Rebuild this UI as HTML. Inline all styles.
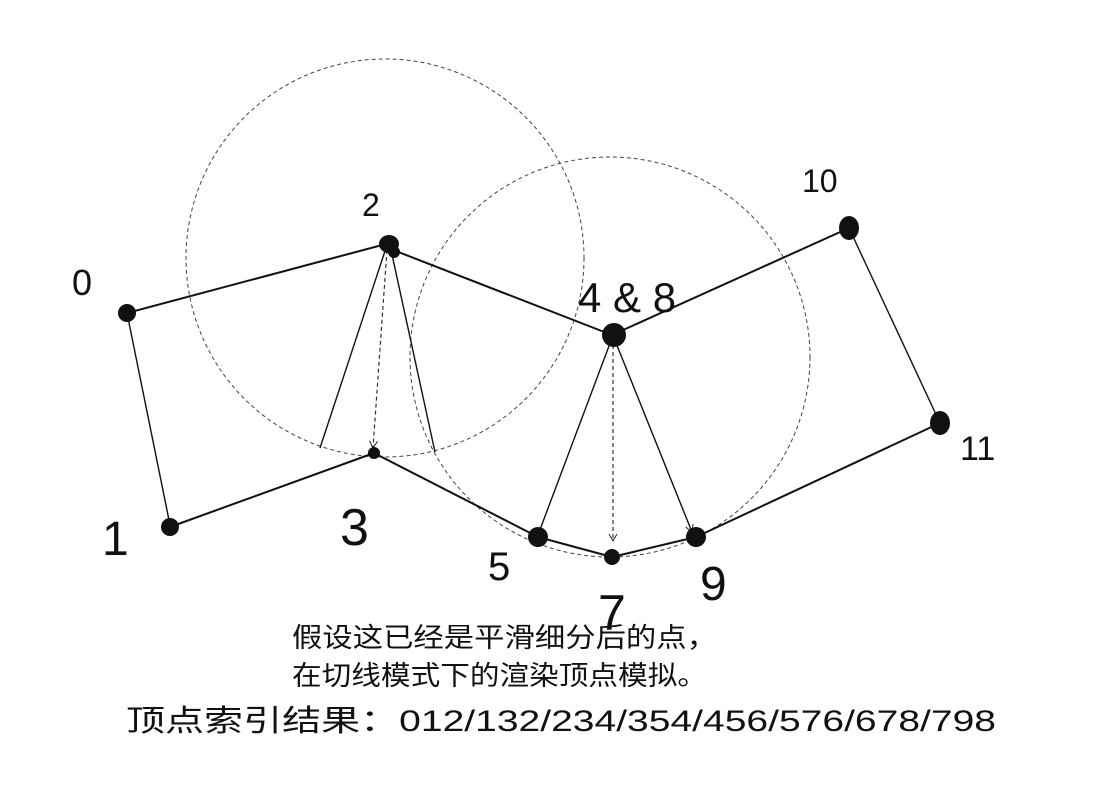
<!DOCTYPE html>
<html><head><meta charset="utf-8">
<style>
html,body{margin:0;padding:0;background:#fff;}
svg{display:block;}
text{font-family:"Liberation Sans","Noto Sans CJK SC",sans-serif;fill:#111;}
</style></head>
<body>
<svg width="1116" height="792" viewBox="0 0 1116 792" xmlns="http://www.w3.org/2000/svg">
<defs>
<marker id="ah" markerWidth="10" markerHeight="10" refX="8" refY="5" orient="auto" markerUnits="userSpaceOnUse">
<path d="M1,1 L8,5 L1,9" fill="none" stroke="#222" stroke-width="1"/>
</marker>
</defs>
<circle cx="385" cy="258" r="199" fill="none" stroke="#444" stroke-width="1" stroke-dasharray="4,3"/>
<circle cx="610" cy="357" r="200" fill="none" stroke="#444" stroke-width="1" stroke-dasharray="4,3"/>
<g stroke="#111" stroke-width="2" fill="none" stroke-linecap="round">
<line x1="127" y1="313" x2="386" y2="244"/>
<line x1="388" y1="248" x2="612" y2="335"/>
<line x1="612" y1="335" x2="849" y2="228"/>
<line x1="374" y1="453" x2="170" y2="527"/>
<line x1="374" y1="453" x2="538" y2="537"/>
<line x1="538" y1="537" x2="612" y2="557"/>
<line x1="612" y1="557" x2="696" y2="537"/>
<line x1="696" y1="537" x2="940" y2="423"/>
</g>
<g stroke="#111" stroke-width="1.4" fill="none">
<line x1="127" y1="313" x2="170" y2="525"/>
<line x1="849" y1="228" x2="940" y2="423"/>
<line x1="386" y1="248" x2="320" y2="448"/>
<line x1="391" y1="250" x2="435" y2="452"/>
<line x1="612" y1="338" x2="538" y2="535"/>
<line x1="614" y1="338" x2="692" y2="532" marker-end="url(#ah)"/>
</g>
<g stroke="#333" stroke-width="1.2" fill="none" stroke-dasharray="4,3">
<line x1="387" y1="250" x2="373" y2="448" marker-end="url(#ah)"/>
<line x1="613" y1="345" x2="613" y2="541" marker-end="url(#ah)"/>
</g>
<g fill="#111">
<circle cx="127" cy="313" r="9"/>
<circle cx="170" cy="527" r="9"/>
<ellipse cx="389" cy="244" rx="10" ry="9"/>
<circle cx="394" cy="252" r="6"/>
<circle cx="374" cy="453" r="6"/>
<circle cx="614" cy="335" r="12"/>
<circle cx="538" cy="537" r="10"/>
<circle cx="612" cy="557" r="8"/>
<circle cx="696" cy="537" r="10"/>
<ellipse cx="849" cy="228" rx="10" ry="12"/>
<ellipse cx="940" cy="423" rx="10" ry="12"/>
</g>
<g font-weight="300">
<text x="72" y="295" font-size="36">0</text>
<text x="102" y="555" font-size="48">1</text>
<text x="362" y="216" font-size="32">2</text>
<text x="340" y="545" font-size="52">3</text>
<text x="578" y="312" font-size="42">4 &amp; 8</text>
<text x="488" y="580" font-size="40">5</text>
<text x="598" y="630" font-size="50">7</text>
<text x="700" y="600" font-size="48">9</text>
<text x="802" y="192" font-size="32">10</text>
<text x="960" y="460" font-size="34">11</text>
</g>
<text x="292" y="647" font-size="27" textLength="425" lengthAdjust="spacingAndGlyphs">假设这已经是平滑细分后的点，</text>
<text x="292" y="685" font-size="27" textLength="415" lengthAdjust="spacingAndGlyphs">在切线模式下的渲染顶点模拟。</text>
<text x="126" y="731" font-size="30" textLength="870" lengthAdjust="spacingAndGlyphs">顶点索引结果：012/132/234/354/456/576/678/798</text>
</svg>
</body></html>
